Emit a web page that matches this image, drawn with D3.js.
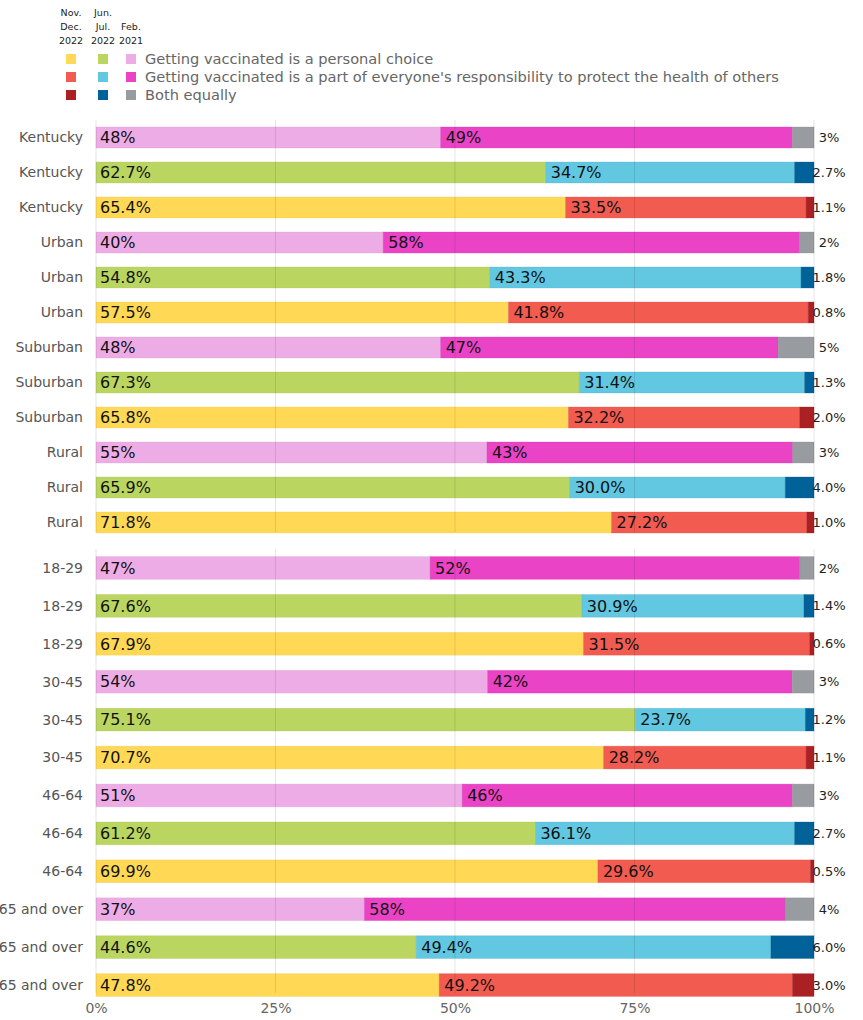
<!DOCTYPE html>
<html>
<head>
<meta charset="utf-8">
<script src="https://cdn.jsdelivr.net/npm/d3@7"></script>
<style>
  body { margin: 0; background: #fff; font-family: "DejaVu Sans", sans-serif; }
  svg { display: block; }
</style>
</head>
<body>
<div id="chart"></div>
<script>
// rows of the chart, top panel then bottom panel
const regionGroups = ["Kentucky", "Urban", "Suburban", "Rural"];
const ageGroups = ["18-29", "30-45", "46-64", "65 and over"];
const groups = regionGroups.concat(ageGroups);

// survey waves, drawn in this order inside each group
const waves = ["feb", "jul", "dec"];

// Feb. 2021
const febPersonal = [48, 40, 48, 55, 47, 54, 51, 37];
const febOthers = [49, 58, 47, 43, 52, 42, 46, 58];
const febBoth = [3, 2, 5, 3, 2, 3, 3, 4];

// Jun./Jul. 2022
const julPersonal = [62.7, 54.8, 67.3, 65.9, 67.6, 75.1, 61.2, 44.6];
const julOthers = [34.7, 43.3, 31.4, 30.0, 30.9, 23.7, 36.1, 49.4];
const julBoth = [2.7, 1.8, 1.3, 4.0, 1.4, 1.2, 2.7, 6.0];

// Nov./Dec. 2022
const decPersonal = [65.4, 57.5, 65.8, 71.8, 67.9, 70.7, 69.9, 47.8];
const decOthers = [33.5, 41.8, 32.2, 27.2, 31.5, 28.2, 29.6, 49.2];
const decBoth = [1.1, 0.8, 2.0, 1.0, 0.6, 1.1, 0.5, 3.0];

const answers = [
    "Getting vaccinated is a personal choice",
    "Getting vaccinated is a part of everyone's responsibility to protect the health of others",
    "Both equally"
];
const tickValues = [0, 0.25, 0.5, 0.75, 1];

const colors = {
    feb: ["#eeace6", "#ea43c6", "#989b9f"],
    jul: ["#bad661", "#62c7e0", "#01629a"],
    dec: ["#ffd955", "#f15b50", "#ab2023"]
};
const valueFormat = { feb: d3.format(".0f"), jul: d3.format(".1f"), dec: d3.format(".1f") };

const width = 863, height = 1020;
const x0 = 96, x1 = 814;

const svg = d3.select("#chart").append("svg")
    .attr("width", width)
    .attr("height", height);

const x = d3.scaleLinear().domain([0, 1]).range([x0, x1]);

//one row per group and wave
const table = {
    feb: [febPersonal, febOthers, febBoth],
    jul: [julPersonal, julOthers, julBoth],
    dec: [decPersonal, decOthers, decBoth]
};
const rows = groups.flatMap((g, i) => waves.map(w => ({
    id: g + "|" + w,
    group: g,
    wave: w,
    personal: table[w][0][i],
    others: table[w][1][i],
    both: table[w][2][i]
})));

const keys = ["personal", "others", "both"];
const stack = d3.stack().keys(keys).offset(d3.stackOffsetExpand);

const panels = [
    { rows: rows.slice(0, 12), range: [120, 540], gridEnd: 532 },
    { rows: rows.slice(12), range: [549, 1004], gridEnd: 993 }
];

panels.forEach(panel => {
    const y = d3.scaleBand()
        .domain(panel.rows.map(d => d.id))
        .range(panel.range)
        .paddingInner(0.4)
        .paddingOuter(0.2);

    const series = stack(panel.rows);
    const g = svg.append("g");

    series.forEach((s, k) => {
        g.append("g")
            .selectAll("rect")
            .data(s)
            .join("rect")
                .attr("x", d => x(d[0]))
                .attr("y", d => y(d.data.id))
                .attr("width", d => x(d[1]) - x(d[0]))
                .attr("height", y.bandwidth())
                .attr("fill", d => colors[d.data.wave][k])
                .attr("stroke", d => d3.color(colors[d.data.wave][k]).darker(0.3))
                .attr("stroke-opacity", 0.35)
                .attr("stroke-width", 0.8);
    });

    //grid lines on top of bars
    g.append("g")
        .selectAll("line")
        .data(tickValues)
        .join("line")
            .attr("x1", d => x(d))
            .attr("x2", d => x(d))
            .attr("y1", panel.range[0])
            .attr("y2", panel.gridEnd)
            .attr("stroke", "#000")
            .attr("stroke-opacity", 0.1);

    //group labels
    g.append("g")
        .selectAll("text")
        .data(panel.rows)
        .join("text")
            .attr("x", 83)
            .attr("y", d => y(d.id) + y.bandwidth() / 2)
            .attr("dy", "0.35em")
            .attr("text-anchor", "end")
            .attr("font-size", 14)
            .attr("fill", "#555")
            .text(d => d.group);

    //first and second segment labels
    [0, 1].forEach(k => {
        g.append("g")
            .selectAll("text")
            .data(series[k])
            .join("text")
                .attr("x", d => x(d[0]) + (k === 0 ? 4 : 5))
                .attr("y", d => y(d.data.id) + y.bandwidth() / 2)
                .attr("dy", "0.36em")
                .attr("font-size", 16)
                .attr("fill", "#111")
                .text(d => valueFormat[d.data.wave](d.data[keys[k]]) + "%");
    });

    //"both equally" outside the bar
    g.append("g")
        .selectAll("text")
        .data(panel.rows)
        .join("text")
            .attr("x", x(1) + 15)
            .attr("y", d => y(d.id) + y.bandwidth() / 2)
            .attr("dy", "0.35em")
            .attr("text-anchor", "middle")
            .attr("font-size", 13)
            .attr("fill", "#222")
            .text(d => valueFormat[d.wave](d.both) + "%");
});

//x axis
const xAxis = svg.append("g")
    .attr("transform", "translate(0, 994)")
    .call(d3.axisBottom(x).tickValues(tickValues).tickFormat(d3.format(".0%")).tickSize(0).tickPadding(9));
xAxis.select(".domain").remove();
xAxis.selectAll("text")
    .attr("font-family", "DejaVu Sans, sans-serif")
    .attr("font-size", 14)
    .attr("fill", "#666");

//legend
const legendCols = [
    { wave: "dec", cx: 71, head: ["Nov.", "Dec.", "2022"] },
    { wave: "jul", cx: 103, head: ["Jun.", "Jul.", "2022"] },
    { wave: "feb", cx: 131, head: ["", "Feb.", "2021"] }
];
const legendRows = [59, 77, 95];
const legend = svg.append("g");

legendCols.forEach(col => {
    legend.append("g")
        .selectAll("text")
        .data(col.head)
        .join("text")
            .attr("x", col.cx)
            .attr("y", (d, i) => 16 + i * 14)
            .attr("text-anchor", "middle")
            .attr("font-size", 9.5)
            .attr("fill", "#222")
            .text(d => d);

    legend.append("g")
        .selectAll("rect")
        .data(colors[col.wave])
        .join("rect")
            .attr("x", col.cx - 5)
            .attr("y", (d, i) => legendRows[i] - 5)
            .attr("width", 10)
            .attr("height", 10)
            .attr("fill", d => d);
});

legend.append("g")
    .selectAll("text")
    .data(answers)
    .join("text")
        .attr("x", 145)
        .attr("y", (d, i) => legendRows[i])
        .attr("dy", "0.35em")
        .attr("font-size", 14.6)
        .attr("fill", "#666")
        .text(d => d);
</script>
</body>
</html>
